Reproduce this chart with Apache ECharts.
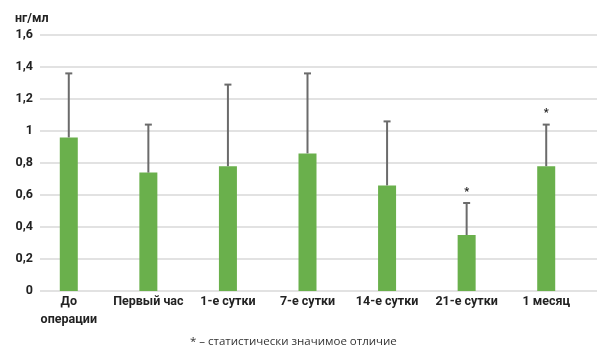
<!DOCTYPE html>
<html>
<head>
<meta charset="utf-8">
<script src="https://cdn.jsdelivr.net/npm/echarts@6/dist/echarts.min.js"></script>
<style>
  html, body { margin: 0; padding: 0; background: #fff; }
  #chart { width: 598px; height: 349px; }
</style>
</head>
<body>
<div id="chart"></div>
<script>
// Periods of observation
const categories = ['До\nоперации', 'Первый час', '1-е сутки', '7-е сутки', '14-е сутки', '21-е сутки', '1 месяц'];
// Mean concentration, ng/ml
const meanValues = [0.96, 0.74, 0.78, 0.86, 0.66, 0.35, 0.78];
// Upper end of the error bar (mean + SD), ng/ml
const upperValues = [1.36, 1.04, 1.29, 1.36, 1.06, 0.55, 1.04];
// Statistically significant difference markers
const significant = [false, false, false, false, false, true, true];

const FONT = 'Roboto, "Open Sans", sans-serif';
const chart = echarts.init(document.getElementById('chart'));

chart.setOption({
  animation: false,
  grid: [
    { left: 29, right: 12, top: 35, bottom: 58 },
    { left: 40, right: 1, top: 35, bottom: 58 }
  ],
  xAxis: [
    {
      type: 'category', gridIndex: 0, data: categories,
      axisLine: { show: false }, axisTick: { show: false },
      axisLabel: { color: '#222', fontFamily: FONT, fontWeight: 'bold', fontSize: 12.5, lineHeight: 18, margin: 2, interval: 0 }
    },
    { type: 'category', gridIndex: 1, data: categories, show: false }
  ],
  yAxis: [
    { type: 'value', gridIndex: 0, min: 0, max: 1.6, interval: 0.2, show: false, splitLine: { show: false } },
    {
      type: 'value', gridIndex: 1, min: 0, max: 1.6, interval: 0.2,
      name: 'нг/мл', nameLocation: 'end', nameGap: 10,
      nameTextStyle: { color: '#222', fontFamily: FONT, fontWeight: 'bold', fontSize: 12.5, align: 'left', padding: [0, 0, 0, -25] },
      axisLine: { show: false }, axisTick: { show: false },
      axisLabel: {
        color: '#222', fontFamily: FONT, fontWeight: 'bold', fontSize: 12.5, margin: 7,
        formatter: v => String(Math.round(v * 10) / 10).replace('.', ',')
      },
      splitLine: { lineStyle: { color: '#d9d9d9', width: 1.5 } }
    }
  ],
  series: [
    {
      type: 'bar', xAxisIndex: 0, yAxisIndex: 0,
      data: meanValues, barWidth: 18,
      itemStyle: { color: '#6ab04c' }
    },
    {
      type: 'custom', xAxisIndex: 0, yAxisIndex: 0,
      data: meanValues.map((m, i) => [i, m, upperValues[i], significant[i] ? 1 : 0]),
      renderItem: (params, api) => {
        const i = api.value(0);
        const base = api.coord([i, api.value(1)]);
        const top = api.coord([i, api.value(2)]);
        const style = { stroke: '#6b6b6b', lineWidth: 2 };
        const children = [
          { type: 'line', shape: { x1: base[0], y1: base[1], x2: top[0], y2: top[1] }, style },
          { type: 'line', shape: { x1: top[0] - 3.5, y1: top[1], x2: top[0] + 3.5, y2: top[1] }, style }
        ];
        if (api.value(3)) {
          children.push({
            type: 'text',
            style: { text: '*', x: top[0], y: top[1] - 11, align: 'center', verticalAlign: 'middle',
                     fill: '#222', font: 'bold 11px ' + FONT }
          });
        }
        return { type: 'group', children };
      },
      z: 3
    }
  ],
  graphic: [
    {
      type: 'text', left: 190, top: 336,
      style: { text: '* – статистически значимое отличие', fill: '#333', font: '11.5px "Open Sans", sans-serif' }
    }
  ]
});
</script>
</body>
</html>
